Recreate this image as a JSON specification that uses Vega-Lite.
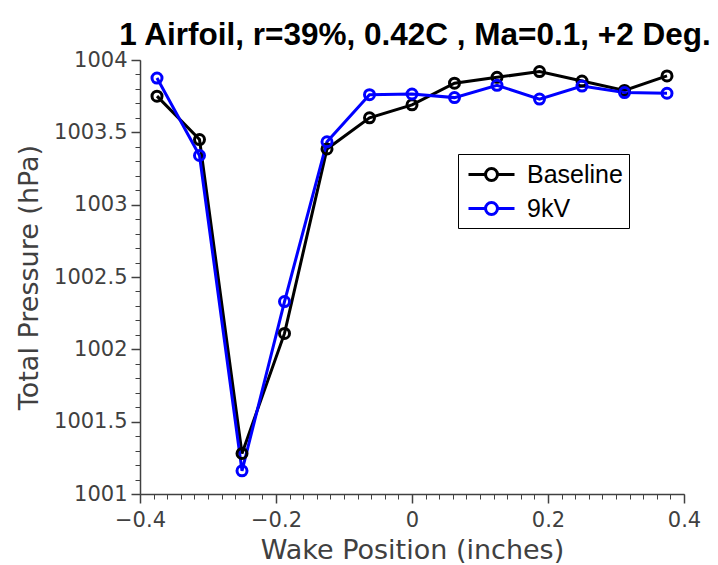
{
  "$schema": "https://vega.github.io/schema/vega-lite/v6.json",
  "width": 544,
  "height": 434,
  "padding": {"left": 15, "top": 19, "right": 5, "bottom": 5},
  "background": "white",
  "title": {
    "text": "1 Airfoil, r=39%, 0.42C , Ma=0.1, +2 Deg.",
    "font": "Liberation Sans",
    "fontSize": 31.5,
    "fontWeight": "bold",
    "color": "black",
    "anchor": "middle",
    "frame": "group",
    "dx": 3,
    "offset": -2
  },
  "config": {
    "view": {"stroke": null},
    "axis": {
      "labelFont": "DejaVu Sans",
      "titleFont": "DejaVu Sans",
      "labelColor": "#404040",
      "titleColor": "#404040",
      "domainColor": "#404040",
      "tickColor": "#404040",
      "labelFontSize": 21,
      "titleFontSize": 27,
      "titleFontWeight": "normal",
      "grid": false,
      "labelFlush": false,
      "labelOverlap": false
    }
  },
  "data": {
    "values": [
      {"x": -0.375, "p": 1003.75, "s": "Baseline"},
      {"x": -0.3125, "p": 1003.45, "s": "Baseline"},
      {"x": -0.25, "p": 1001.28, "s": "Baseline"},
      {"x": -0.1875, "p": 1002.11, "s": "Baseline"},
      {"x": -0.125, "p": 1003.385, "s": "Baseline"},
      {"x": -0.0625, "p": 1003.60, "s": "Baseline"},
      {"x": 0, "p": 1003.69, "s": "Baseline"},
      {"x": 0.0625, "p": 1003.84, "s": "Baseline"},
      {"x": 0.125, "p": 1003.88, "s": "Baseline"},
      {"x": 0.1875, "p": 1003.92, "s": "Baseline"},
      {"x": 0.25, "p": 1003.855, "s": "Baseline"},
      {"x": 0.3125, "p": 1003.79, "s": "Baseline"},
      {"x": 0.375, "p": 1003.89, "s": "Baseline"},
      {"x": -0.375, "p": 1003.875, "s": "9kV"},
      {"x": -0.3125, "p": 1003.34, "s": "9kV"},
      {"x": -0.25, "p": 1001.16, "s": "9kV"},
      {"x": -0.1875, "p": 1002.33, "s": "9kV"},
      {"x": -0.125, "p": 1003.435, "s": "9kV"},
      {"x": -0.0625, "p": 1003.76, "s": "9kV"},
      {"x": 0, "p": 1003.765, "s": "9kV"},
      {"x": 0.0625, "p": 1003.74, "s": "9kV"},
      {"x": 0.125, "p": 1003.825, "s": "9kV"},
      {"x": 0.1875, "p": 1003.73, "s": "9kV"},
      {"x": 0.25, "p": 1003.82, "s": "9kV"},
      {"x": 0.3125, "p": 1003.775, "s": "9kV"},
      {"x": 0.375, "p": 1003.77, "s": "9kV"}
    ]
  },
  "layer": [
    {
      "mark": {"type": "line", "strokeWidth": 3, "opacity": 0},
      "encoding": {
        "x": {"field": "x", "type": "quantitative", "scale": {"domain": [-0.4, 0.4], "nice": false, "zero": false},
          "axis": {"orient": "bottom", "values": [-0.4,-0.38,-0.36,-0.34,-0.32,-0.3,-0.28,-0.26,-0.24,-0.22,-0.2,-0.18,-0.16,-0.14,-0.12,-0.1,-0.08,-0.06,-0.04,-0.02,0,0.02,0.04,0.06,0.08,0.1,0.12,0.14,0.16,0.18,0.2,0.22,0.24,0.26,0.28,0.3,0.32,0.34,0.36,0.38,0.4], "labels": false, "domain": false, "title": null, "tickSize": 5, "tickWidth": 1}},
        "y": {"field": "p", "type": "quantitative", "scale": {"domain": [1001, 1004], "nice": false, "zero": false},
          "axis": {"orient": "left", "values": [1001,1001.1,1001.2,1001.3,1001.4,1001.5,1001.6,1001.7,1001.8,1001.9,1002,1002.1,1002.2,1002.3,1002.4,1002.5,1002.6,1002.7,1002.8,1002.9,1003,1003.1,1003.2,1003.3,1003.4,1003.5,1003.6,1003.7,1003.8,1003.9,1004], "labels": false, "domain": false, "title": null, "tickSize": 5, "tickWidth": 1}},
        "detail": {"field": "s"}
      }
    },
    {
      "mark": {"type": "line", "strokeWidth": 3, "point": {"filled": false, "size": 100, "strokeWidth": 3}},
      "encoding": {
        "x": {"field": "x", "type": "quantitative", "scale": {"domain": [-0.4, 0.4], "nice": false, "zero": false},
          "axis": {"orient": "bottom", "values": [-0.4, -0.2, 0, 0.2, 0.4], "format": "~g", "title": "Wake Position (inches)", "tickSize": 9, "tickWidth": 1.5, "domainWidth": 1.5, "labelPadding": 6, "titlePadding": 7}},
        "y": {"field": "p", "type": "quantitative", "scale": {"domain": [1001, 1004], "nice": false, "zero": false},
          "axis": {"orient": "left", "values": [1001, 1001.5, 1002, 1002.5, 1003, 1003.5, 1004], "format": "~g", "title": "Total Pressure (hPa)", "tickSize": 9, "tickWidth": 1.5, "domainWidth": 1.5, "labelPadding": 4, "titlePadding": 10}},
        "color": {"field": "s", "type": "nominal", "sort": ["Baseline", "9kV"],
          "scale": {"domain": ["Baseline", "9kV"], "range": ["black", "#0000ff"]},
          "legend": {"orient": "none", "legendX": 318, "legendY": 94, "title": null, "strokeColor": "black", "fillColor": "white", "padding": 6,
            "labelFont": "Liberation Sans", "labelFontSize": 25, "labelColor": "black", "rowPadding": 6,
            "symbolType": "M-0.77,0H0.54M1.46,0H2.77M1.46,0A0.46,0.46,0,1,1,0.54,0A0.46,0.46,0,1,1,1.46,0",
            "symbolSize": 676, "symbolStrokeWidth": 3, "symbolFillColor": "white", "labelOffset": 34}}
      }
    }
  ],
  "resolve": {"axis": {"x": "independent", "y": "independent"}}
}
